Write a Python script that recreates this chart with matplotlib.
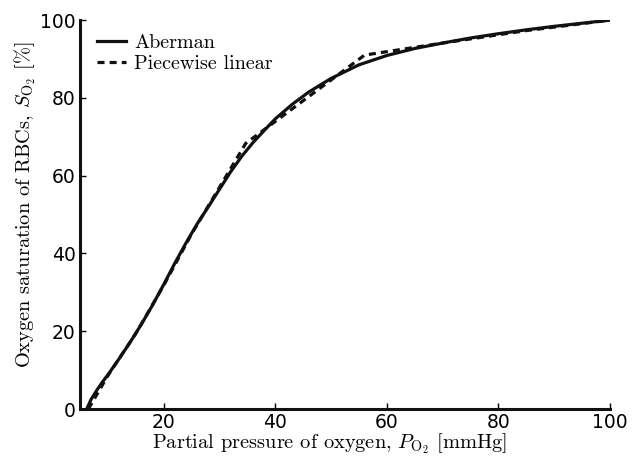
import numpy as np
import matplotlib
matplotlib.use("Agg")
import matplotlib.pyplot as plt

plt.rcParams['mathtext.fontset'] = 'cm'

# Aberman curve
p_aberman = [6.2, 7, 8, 9, 10, 12, 14, 16, 18, 20, 22, 24, 26, 28, 30, 32, 34,
             36, 38, 40, 43, 46, 50, 55, 60, 65, 70, 75, 80, 85, 90, 95, 100]
s_aberman = [0, 2.5, 4.8, 6.9, 8.8, 12.9, 17.2, 21.8, 26.7, 32.0, 37.5, 42.7,
             47.6, 52.0, 56.5, 61.0, 65.0, 68.5, 71.6, 74.6, 78.3, 81.5, 85.0,
             88.5, 90.9, 92.7, 94.1, 95.4, 96.5, 97.5, 98.4, 99.2, 100]

# piecewise linear fit
p_pw = [6.5, 10, 15, 20, 25, 34.7, 56, 70, 85, 100]
s_pw = [0, 8.6, 19.4, 31.8, 45.0, 68.3, 91.0, 94.1, 97.3, 100]

xticks = [20, 40, 60, 80, 100]
yticks = [0, 20, 40, 60, 80, 100]

fig = plt.figure(figsize=(6.37, 4.57), dpi=100)
ax = fig.add_axes([0.1256, 0.105, 0.832, 0.851])

ax.plot(p_aberman, s_aberman, '-', color='#111111', lw=2.3, label='Aberman',
        solid_joinstyle='round')
ax.plot(p_pw, s_pw, '--', color='#111111', lw=2.3, dashes=(2.2, 1.6),
        label='Piecewise linear')

ax.set_xlim(5, 100)
ax.set_ylim(0, 100)
ax.set_xticks(xticks)
ax.set_yticks(yticks)
ax.tick_params(direction='in', length=4, width=1, labelsize=13.5, pad=3)

for s in ['top', 'right']:
    ax.spines[s].set_visible(False)
for s in ['left', 'bottom']:
    ax.spines[s].set_linewidth(2.2)
    ax.spines[s].set_color('#111111')

ax.set_xlabel(r'Partial pressure of oxygen, $P_{\mathrm{O}_2}$ [mmHg]',
              family='cmr10', fontsize=14.7)
ax.xaxis.set_label_coords(0.47, -0.056)
ax.set_ylabel(r'Oxygen saturation of RBCs, $S_{\mathrm{O}_2}$ [%]',
              family='cmr10', fontsize=14.7)
ax.yaxis.set_label_coords(-0.079, 0.524)

leg = ax.legend(loc='upper left', bbox_to_anchor=(0.005, 1.0), frameon=False,
                prop={'family': 'cmr10', 'size': 14.5}, handlelength=1.45,
                handletextpad=0.4, labelspacing=0.12, borderaxespad=0.3)

fig.savefig('out.png', dpi=100)
